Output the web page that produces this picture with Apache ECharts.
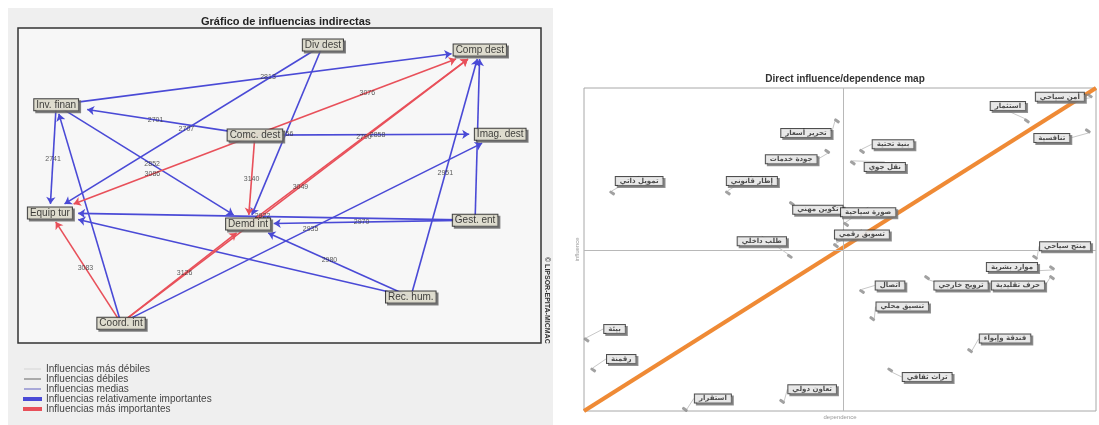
<!DOCTYPE html>
<html>
<head>
<meta charset="utf-8">
<script src="https://cdn.jsdelivr.net/npm/echarts@6/dist/echarts.min.js"></script>
<style>
  html, body { margin: 0; padding: 0; background: #fff; }
  #chart { width: 1099px; height: 425px; }
</style>
</head>
<body>
<div id="chart"></div>
<script>
// ---- left: indirect influence graph ----
const nodeNames = ['Div dest', 'Comp dest', 'Inv. finan', 'Comc. dest', 'Imag. dest', 'Equip tur', 'Demd int', 'Gest. ent', 'Rec. hum.', 'Coord. int'];
const nodeX = [58.3, 88.3, 7.3, 45.3, 92.2, 6.1, 44.0, 87.4, 75.1, 19.7];
const nodeY = [94.6, 93.0, 75.6, 66.0, 66.3, 41.3, 37.8, 39.0, 14.6, 6.3];

const blueFrom = ['Inv. finan', 'Div dest', 'Div dest', 'Comc. dest', 'Inv. finan', 'Comc. dest', 'Inv. finan', 'Coord. int', 'Gest. ent', 'Rec. hum.', 'Gest. ent', 'Gest. ent', 'Rec. hum.', 'Rec. hum.', 'Coord. int'];
const blueTo = ['Comp dest', 'Equip tur', 'Demd int', 'Inv. finan', 'Demd int', 'Imag. dest', 'Equip tur', 'Inv. finan', 'Comp dest', 'Comp dest', 'Equip tur', 'Demd int', 'Demd int', 'Equip tur', 'Imag. dest'];
const blueValues = [2813, 2707, 2756, 2701, 2852, 2858, 2741, null, null, 2951, 2922, 2970, 2980, null, 2935];

const redFrom = ['Comc. dest', 'Comc. dest', 'Comc. dest', 'Coord. int', 'Demd int', 'Coord. int', 'Coord. int'];
const redTo = ['Equip tur', 'Comp dest', 'Demd int', 'Comp dest', 'Comp dest', 'Demd int', 'Equip tur'];
const redValues = [3086, 3076, 3140, 3049, 2790, 3126, 3083];

const legendNames = ['Influencias más débiles', 'Influencias débiles', 'Influencias medias', 'Influencias relativamente importantes', 'Influencias más importantes'];

// ---- right: direct influence/dependence map ----
const mapLabels = ['تمويل ذاتي', 'إطار قانوني', 'تحرير أسعار', 'جودة خدمات', 'تكوين مهني', 'طلب داخلي',
  'صورة سياحية', 'تسويق رقمي', 'بنية تحتية', 'نقل جوي', 'استثمار', 'تنافسية', 'أمن سياحي',
  'منتج سياحي', 'موارد بشرية', 'حرف تقليدية', 'ترويج خارجي', 'اتصال', 'تنسيق محلي',
  'فندقة وإيواء', 'تراث ثقافي', 'بيئة', 'رقمنة', 'استقرار', 'تعاون دولي'];
const dependence = [5.5, 28.1, 49.4, 47.5, 40.6, 40.2, 51.2, 49.2, 54.3, 52.5, 86.5, 98.4, 98.8, 88.1, 91.4, 91.4, 67.0, 54.3, 56.3, 75.4, 59.8, 0.5, 1.8, 19.7, 38.7];
const influence = [67.5, 67.5, 89.8, 80.4, 64.2, 47.9, 57.8, 51.2, 80.4, 76.8, 89.8, 86.7, 97.6, 47.6, 44.3, 41.3, 41.3, 37.0, 28.6, 18.7, 12.7, 22.0, 12.7, 0.5, 3.0];
const meanDependence = 50.6;
const meanInfluence = 49.7;

// label placement (px) for the map boxes
const labelDx = [27, 24, -31, -36, 26, -28, 22, 26, 31, 32, -19, -36, -30, 30, -40, -34, 34, 28, 30, 35, 37, 28, 28, 28, 30];
const labelDy = [-12, -12, 12, 8, 6, -15, -12, -11, -7, 4, -15, 7, 1, -11, -1, 8, 8, -6, -12, -12, 7, -11, -11, -11, -12];

const LEFT_W = 523, LEFT_H = 315;
const sx = LEFT_W / 100, sy = LEFT_H / 100;

function nodePos(name) {
  const i = nodeNames.indexOf(name);
  return [nodeX[i], nodeY[i]];
}

// stop the arrow at the edge of the target's label box
function clipEnd(a, b, name) {
  const dx = (b[0] - a[0]) * sx, dy = (b[1] - a[1]) * sy;
  const hw = name.length * 2.7 + 4, hh = 9;
  const t = Math.min(hw / Math.max(Math.abs(dx), 1e-6), hh / Math.max(Math.abs(dy), 1e-6));
  return [b[0] - dx * t / sx, b[1] - dy * t / sy];
}

function edgeLines(from, to) {
  return from.map((f, i) => {
    const a = nodePos(f), b = nodePos(to[i]);
    return { coords: [a, clipEnd(a, b, to[i])] };
  });
}

function edgeLabels(from, to, vals) {
  const out = [];
  from.forEach((f, i) => {
    if (vals[i] == null) return;
    const a = nodePos(f), b = nodePos(to[i]);
    out.push([(a[0] + b[0]) / 2, (a[1] + b[1]) / 2, vals[i]]);
  });
  return out;
}

const chart = echarts.init(document.getElementById('chart'), null, { renderer: 'canvas' });

const boxLabel = {
  show: true,
  position: 'inside',
  formatter: p => p.name,
  fontFamily: 'Liberation Sans',
  fontSize: 10,
  color: '#111',
  backgroundColor: '#f6f4e2',
  borderColor: '#111',
  borderWidth: 1,
  padding: [1, 2, 0, 2],
  shadowColor: '#666',
  shadowOffsetX: 2,
  shadowOffsetY: 2
};

chart.setOption({
  animation: false,
  backgroundColor: '#fff',
  graphic: [
    { type: 'rect', z: -10, shape: { x: 8, y: 8, width: 545, height: 420 }, style: { fill: '#efefef' } },
    {
      type: 'text', x: 550, y: 257, rotation: -Math.PI / 2, z: 5,
      style: { text: '© LIPSOR-EPITA-MICMAC', font: 'bold 7px Liberation Sans', fill: '#333' }
    }
  ],
  title: [
    {
      text: 'Gráfico de influencias indirectas', left: 281, top: 11, textAlign: 'center',
      textStyle: { fontFamily: 'Liberation Sans', fontSize: 11, fontWeight: 'bold', color: '#222' }
    },
    {
      text: 'Direct influence/dependence map', left: 840, top: 69, textAlign: 'center',
      textStyle: { fontFamily: 'Liberation Sans', fontSize: 10, fontWeight: 'bold', color: '#333' }
    }
  ],
  legend: {
    data: legendNames,
    orient: 'vertical',
    left: 18, top: 359,
    itemGap: 0,
    itemWidth: 17, itemHeight: 2,
    icon: 'rect',
    textStyle: { fontFamily: 'Liberation Sans', fontSize: 10, color: '#444' },
    selectedMode: false
  },
  grid: [
    { left: 18, top: 28, width: LEFT_W, height: LEFT_H, show: true, backgroundColor: '#f7f7f7', borderColor: '#333', borderWidth: 1.5 },
    { left: 584, top: 88, width: 512, height: 332, show: true, backgroundColor: '#fff', borderColor: '#a8a8a8', borderWidth: 1 }
  ],
  xAxis: [
    { gridIndex: 0, type: 'value', min: 0, max: 100, show: false },
    {
      gridIndex: 1, type: 'value', min: 0, max: 100, name: 'dependence', nameLocation: 'middle', nameGap: 3,
      nameTextStyle: { fontSize: 6, color: '#999' },
      axisLine: { show: false }, axisTick: { show: false }, axisLabel: { show: false }, splitLine: { show: false }
    }
  ],
  yAxis: [
    { gridIndex: 0, type: 'value', min: 0, max: 100, show: false },
    {
      gridIndex: 1, type: 'value', min: 0, max: 100, name: 'influence', nameLocation: 'middle', nameGap: 4,
      nameTextStyle: { fontSize: 6, color: '#999' },
      axisLine: { show: false }, axisTick: { show: false }, axisLabel: { show: false }, splitLine: { show: false }
    }
  ],
  series: [
    { name: legendNames[0], type: 'lines', coordinateSystem: 'cartesian2d', data: [], itemStyle: { color: '#e2e2e2' }, lineStyle: { color: '#e2e2e2' } },
    { name: legendNames[1], type: 'lines', coordinateSystem: 'cartesian2d', data: [], itemStyle: { color: '#aaaaaa' }, lineStyle: { color: '#aaaaaa' } },
    { name: legendNames[2], type: 'lines', coordinateSystem: 'cartesian2d', data: [], itemStyle: { color: '#a8a8d8' }, lineStyle: { color: '#a8a8d8' } },
    {
      name: legendNames[3], type: 'lines', coordinateSystem: 'cartesian2d', xAxisIndex: 0, yAxisIndex: 0,
      data: edgeLines(blueFrom, blueTo),
      symbol: ['none', 'arrow'], symbolSize: 7,
      itemStyle: { color: '#4a4ad6' },
      lineStyle: { color: '#4a4ad6', width: 1.6, opacity: 1 },
      z: 2
    },
    {
      name: legendNames[4], type: 'lines', coordinateSystem: 'cartesian2d', xAxisIndex: 0, yAxisIndex: 0,
      data: edgeLines(redFrom, redTo),
      symbol: ['none', 'arrow'], symbolSize: 7,
      itemStyle: { color: '#e8505a' },
      lineStyle: { color: '#e8505a', width: 1.6, opacity: 1 },
      z: 3
    },
    {
      type: 'scatter', xAxisIndex: 0, yAxisIndex: 0, symbolSize: 1,
      itemStyle: { color: 'transparent' },
      data: edgeLabels(blueFrom, blueTo, blueValues).concat(edgeLabels(redFrom, redTo, redValues)),
      label: { show: true, position: 'inside', formatter: p => p.value[2], fontFamily: 'Liberation Sans', fontSize: 7, color: '#333' },
      z: 4
    },
    {
      type: 'scatter', xAxisIndex: 0, yAxisIndex: 0, symbolSize: 1,
      itemStyle: { color: 'transparent' },
      data: nodeNames.map((n, i) => ({ name: n, value: [nodeX[i], nodeY[i]] })),
      label: boxLabel,
      z: 6
    },
    // right map
    {
      type: 'line', xAxisIndex: 1, yAxisIndex: 1,
      data: [[0, 0], [100, 100]],
      showSymbol: false, symbol: 'none',
      lineStyle: { color: '#ef8a35', width: 4 },
      markLine: {
        silent: true, symbol: 'none', label: { show: false },
        lineStyle: { color: '#b8b8b8', width: 1, type: 'solid' },
        data: [{ xAxis: meanDependence }, { yAxis: meanInfluence }]
      },
      z: 3
    },
    {
      type: 'scatter', xAxisIndex: 1, yAxisIndex: 1,
      symbol: 'roundRect', symbolSize: [6, 3], symbolRotate: -35,
      itemStyle: { color: '#8a8a8a' },
      data: mapLabels.map((n, i) => ({ name: n, value: [dependence[i], influence[i]] })),
      label: {
        show: true, position: 'inside', formatter: p => p.name,
        fontFamily: 'DejaVu Sans', fontSize: 7, fontWeight: 'bold', color: '#222',
        backgroundColor: '#fff', borderColor: '#222', borderWidth: 1, padding: [1, 4, 0, 4],
        shadowColor: '#777', shadowOffsetX: 2, shadowOffsetY: 2
      },
      labelLayout: p => ({ dx: labelDx[p.dataIndex], dy: labelDy[p.dataIndex] }),
      labelLine: { show: true, lineStyle: { color: '#c8c8c8', width: 1 } },
      z: 5
    }
  ]
});
</script>
</body>
</html>
